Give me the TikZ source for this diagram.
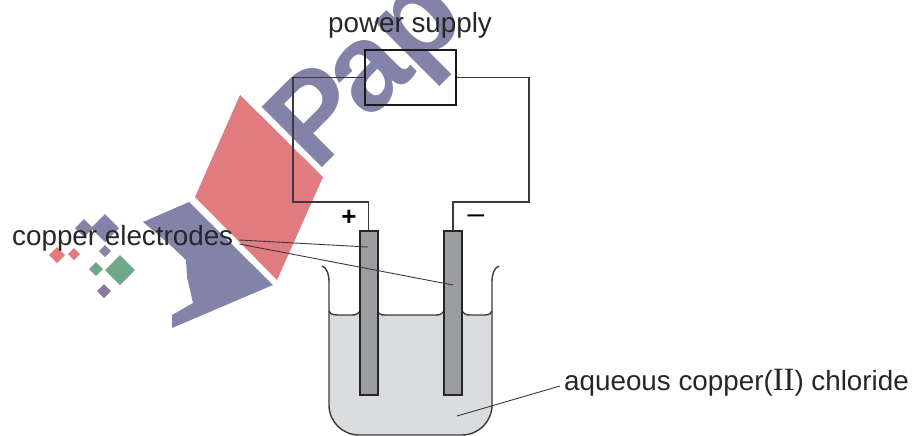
\documentclass[tikz,border=0pt]{standalone}
\usepackage{fontspec}
\setmainfont{Liberation Sans}
\newfontfamily\numeralfont{Liberation Serif}
\newcommand{\labelsize}{\fontsize{27.8}{30}\selectfont}
\definecolor{markblue}{HTML}{8383A9}
\definecolor{markred}{HTML}{E07B7F}
\definecolor{markgreen}{HTML}{6FA98A}
\definecolor{markplum}{HTML}{8A7A9E}
\definecolor{liquidgrey}{HTML}{DBDCDE}
\definecolor{metalgrey}{HTML}{9C9DA1}
\definecolor{wiregrey}{HTML}{3A3A3C}
\tikzset{
  wire/.style={draw=wiregrey,line width=1.5pt},
  leader/.style={draw=wiregrey,line width=0.9pt},
  glass/.style={draw=wiregrey,line width=1.4pt},
  electrode/.style={draw=black!85,fill=metalgrey,line width=2pt,minimum width=18pt,minimum height=164pt,inner sep=0pt},
  supplybox/.style={draw=black!90,line width=2pt,minimum width=91pt,minimum height=55pt,inner sep=0pt},
  caption/.style={inner sep=0pt,text=black!85,font=\labelsize},
}
\newcommand{\diamondmark}[4]{\fill [#4] (#1-#3,#2) -- (#1,#2-#3) -- (#1+#3,#2) -- (#1,#2+#3) -- cycle;}
\begin{document}
\begin{tikzpicture}[x=1pt,y=-1pt]
      \clip (0,0) rectangle (915,436);
      % watermark
      \fill [markred] (240,95) -- (323,177) -- (277,280) -- (195,197) -- cycle;
      \fill [markblue] (143,222) -- (189,202) -- (273,285) -- (172,328) -- (172,315) -- (193,303) -- (187,277) -- (186,260) -- (168,243) -- cycle;
      \diamondmark{105}{228}{14}{markblue}
      \diamondmark{84}{228}{9}{markblue}
      \diamondmark{105}{251}{6}{markblue}
      \diamondmark{57}{255}{8}{markred}
      \diamondmark{74}{254}{6}{markred}
      \diamondmark{120}{270}{15}{markgreen}
      \diamondmark{96}{269}{7}{markgreen}
      \diamondmark{104}{291}{7}{markplum}
      \node (mark) [rotate=45,anchor=base west,inner sep=0pt,text=markblue,font=\fontsize{124}{126}\selectfont\bfseries] at (316,174) {P\kern-9pt a\kern-2pt p};
      % beaker
      \fill [liquidgrey] (329,311) .. controls (331,315) and (334,315) .. (340,315) -- (482,315) .. controls (488,315) and (490,315) .. (492,311) -- (492,405) arc (0:90:30) -- (359,435) arc (90:180:30) -- cycle;
      \draw [glass] (322,266) .. controls (327,268) and (329,274) .. (329,282) -- (329,405) arc (180:90:30) -- (462,435) arc (90:0:30) -- (492,282) .. controls (492,274) and (494,268) .. (499,266);
      \draw [glass] (329,311) .. controls (331,315) and (334,315) .. (340,315) -- (352,315) .. controls (356,315) and (358,314) .. (360,311);
      \draw [glass] (377,311) .. controls (379,314) and (381,315) .. (385,315) -- (436,315) .. controls (440,315) and (442,314) .. (444,311);
      \draw [glass] (462,311) .. controls (464,314) and (466,315) .. (470,315) -- (482,315) .. controls (488,315) and (490,315) .. (492,311);
      % electrodes
      \node (anode) [electrode] at (368.5,313) {};
      \node (cathode) [electrode] at (453,313) {};
      % circuit
      \node (supply) [supplybox] at (410.5,77.5) {};
      \coordinate (lefttop) at (293,77.5);
      \coordinate (leftbot) at (293,202);
      \coordinate (righttop) at (529,77.5);
      \coordinate (rightbot) at (529,202);
      \draw [wire] (supply.west) -- (lefttop) -- (leftbot) -| (anode.north);
      \draw [wire] (supply.east) -- (righttop) -- (rightbot) -| (cathode.north);
      \node (plus) [inner sep=0pt,font=\fontsize{26}{28}\selectfont\bfseries] at (349,218) {+};
      \node (minus) [inner sep=0pt,font=\fontsize{30}{32}\selectfont] at (476,219) {\textendash};
      % labels
      \node (supplytext) [caption] at (410,25) {power supply};
      \node (electrodetext) [caption,anchor=west] at (12,238) {copper electrodes};
      \node (liquidtext) [caption,anchor=west] at (564,383) {aqueous copper({\numeralfont\fontsize{32.5}{34}\selectfont II}) chloride};
      \coordinate (anodetip) at (368,247);
      \coordinate (cathodetip) at (453,285);
      \coordinate (liquidtip) at (457,416);
      \draw [leader] ([shift={(6pt,-2pt)}]electrodetext.east) -- (anodetip);
      \draw [leader] ([shift={(6pt,-6pt)}]electrodetext.east) -- (cathodetip);
      \draw [leader] ([shift={(-4pt,-3pt)}]liquidtext.west) -- (liquidtip);
    \end{tikzpicture}
\end{document}
